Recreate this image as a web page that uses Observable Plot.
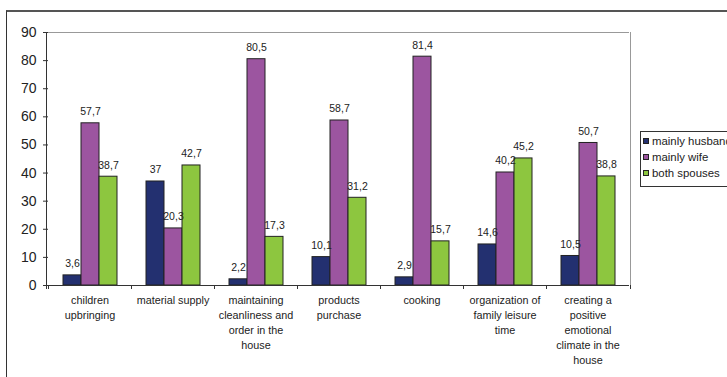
<!DOCTYPE html>
<html>
<head>
<meta charset="utf-8">
<script src="https://cdn.jsdelivr.net/npm/d3@7"></script>
<script src="https://cdn.jsdelivr.net/npm/@observablehq/plot@0.6"></script>
<style>
  html, body { margin: 0; padding: 0; background: #fff; overflow: hidden; }
  body { width: 727px; height: 377px; position: relative; font-family: "Liberation Sans", Arial, sans-serif; }
  #frame { position: absolute; left: 6px; top: 10px; width: 800px; height: 400px;
           border-left: 1.5px solid #333; border-top: 2px solid #555; box-sizing: border-box; }
  #chart { position: absolute; left: 0; top: 0; }
  #legend { position: absolute; left: 640px; top: 131px; width: 96px; height: 56px; box-sizing: border-box;
            border: 1px solid #333; background: #fff; font-size: 11.4px; color: #222; padding-top: 1px; }
  #legend .item { height: 16px; line-height: 16px; white-space: nowrap; display: flex; align-items: center; }
  #legend .sw { width: 4px; height: 4px; border: 1px solid #222; margin: 0 3px 0 2px; flex: none; }
</style>
</head>
<body>
<div id="frame"></div>
<div id="chart"></div>
<div id="legend"></div>
<script>
// Who performs each family duty (%)
const categories = [
  "children upbringing",
  "material supply",
  "maintaining cleanliness and order in the house",
  "products purchase",
  "cooking",
  "organization of family leisure time",
  "creating a positive emotional climate in the house"
];
const tickLabels = [
  "children\nupbringing",
  "material supply",
  "maintaining\ncleanliness and\norder in the\nhouse",
  "products\npurchase",
  "cooking",
  "organization of\nfamily leisure\ntime",
  "creating a\npositive\nemotional\nclimate in the\nhouse"
];
const series = ["mainly husband", "mainly wife", "both spouses"];
const mainlyHusband = [3.6, 37, 2.2, 10.1, 2.9, 14.6, 10.5];
const mainlyWife = [57.7, 20.3, 80.5, 58.7, 81.4, 40.2, 50.7];
const bothSpouses = [38.7, 42.7, 17.3, 31.2, 15.7, 45.2, 38.8];
const colors = ["#233070", "#9c55a0", "#8dc63f"];
const yTicks = [0, 10, 20, 30, 40, 50, 60, 70, 80, 90];

const values = [mainlyHusband, mainlyWife, bothSpouses];
const rows = categories.flatMap((category, i) =>
  series.map((s, j) => ({category, series: s, value: values[j][i]}))
);
const fmt = v => String(v).replace(".", ",");

const chart = Plot.plot({
  width: 640,
  height: 380,
  marginLeft: 46,
  marginRight: 10,
  marginTop: 32,
  marginBottom: 95,
  style: {background: "transparent", fontFamily: "'Liberation Sans', Arial, sans-serif", color: "#222"},
  fx: {domain: categories, padding: 0, label: null},
  x: {domain: series, paddingInner: 0, paddingOuter: 0.75, axis: null},
  y: {domain: [0, 90], label: null},
  color: {domain: series, range: colors},
  marks: [
    Plot.ruleY([90], {stroke: "#999", strokeWidth: 1}),
    Plot.barY(rows, {fx: "category", x: "series", y: "value", fill: "series", stroke: "#222", strokeWidth: 1}),
    Plot.ruleY([0], {stroke: "#333", strokeWidth: 1}),
    Plot.text(rows, {
      fx: "category", x: "series", y: "value", text: d => fmt(d.value),
      lineAnchor: "bottom", dy: -8, fontSize: 10.5, fill: "#222"
    }),
    Plot.axisY({ticks: yTicks, tickSize: 5, tickPadding: 7, fontSize: 14, label: null, stroke: "#333"}),
    Plot.axisFx({
      anchor: "bottom", tickSize: 0, tickPadding: 8, fontSize: 10.8, lineHeight: 1.39, label: null,
      tickFormat: c => tickLabels[categories.indexOf(c)]
    })
  ]
});
document.getElementById("chart").appendChild(chart);

// Axis lines, plot-area border and category boundary ticks from the scales
const fx = chart.scale("fx");
const y = chart.scale("y");
const svg = d3.select(chart);
const xl = fx.range[0], xr = fx.range[1];
const y0 = y.apply(0), yTop = y.apply(90);
const g = svg.append("g").attr("shape-rendering", "crispEdges");
g.append("line").attr("x1", xr).attr("x2", xr).attr("y1", yTop).attr("y2", y0).attr("stroke", "#999");
g.append("line").attr("x1", xl).attr("x2", xl).attr("y1", yTop).attr("y2", y0 + 4).attr("stroke", "#333");
const bounds = categories.map(c => fx.apply(c)).concat([xr]);
g.selectAll(null).data(bounds).join("line")
  .attr("x1", d => d).attr("x2", d => d).attr("y1", y0).attr("y2", y0 + 4).attr("stroke", "#333");

// Legend
const legend = d3.select("#legend");
series.forEach((s, i) => {
  const item = legend.append("div").attr("class", "item");
  item.append("span").attr("class", "sw").style("background", colors[i]);
  item.append("span").text(s);
});
</script>
</body>
</html>
